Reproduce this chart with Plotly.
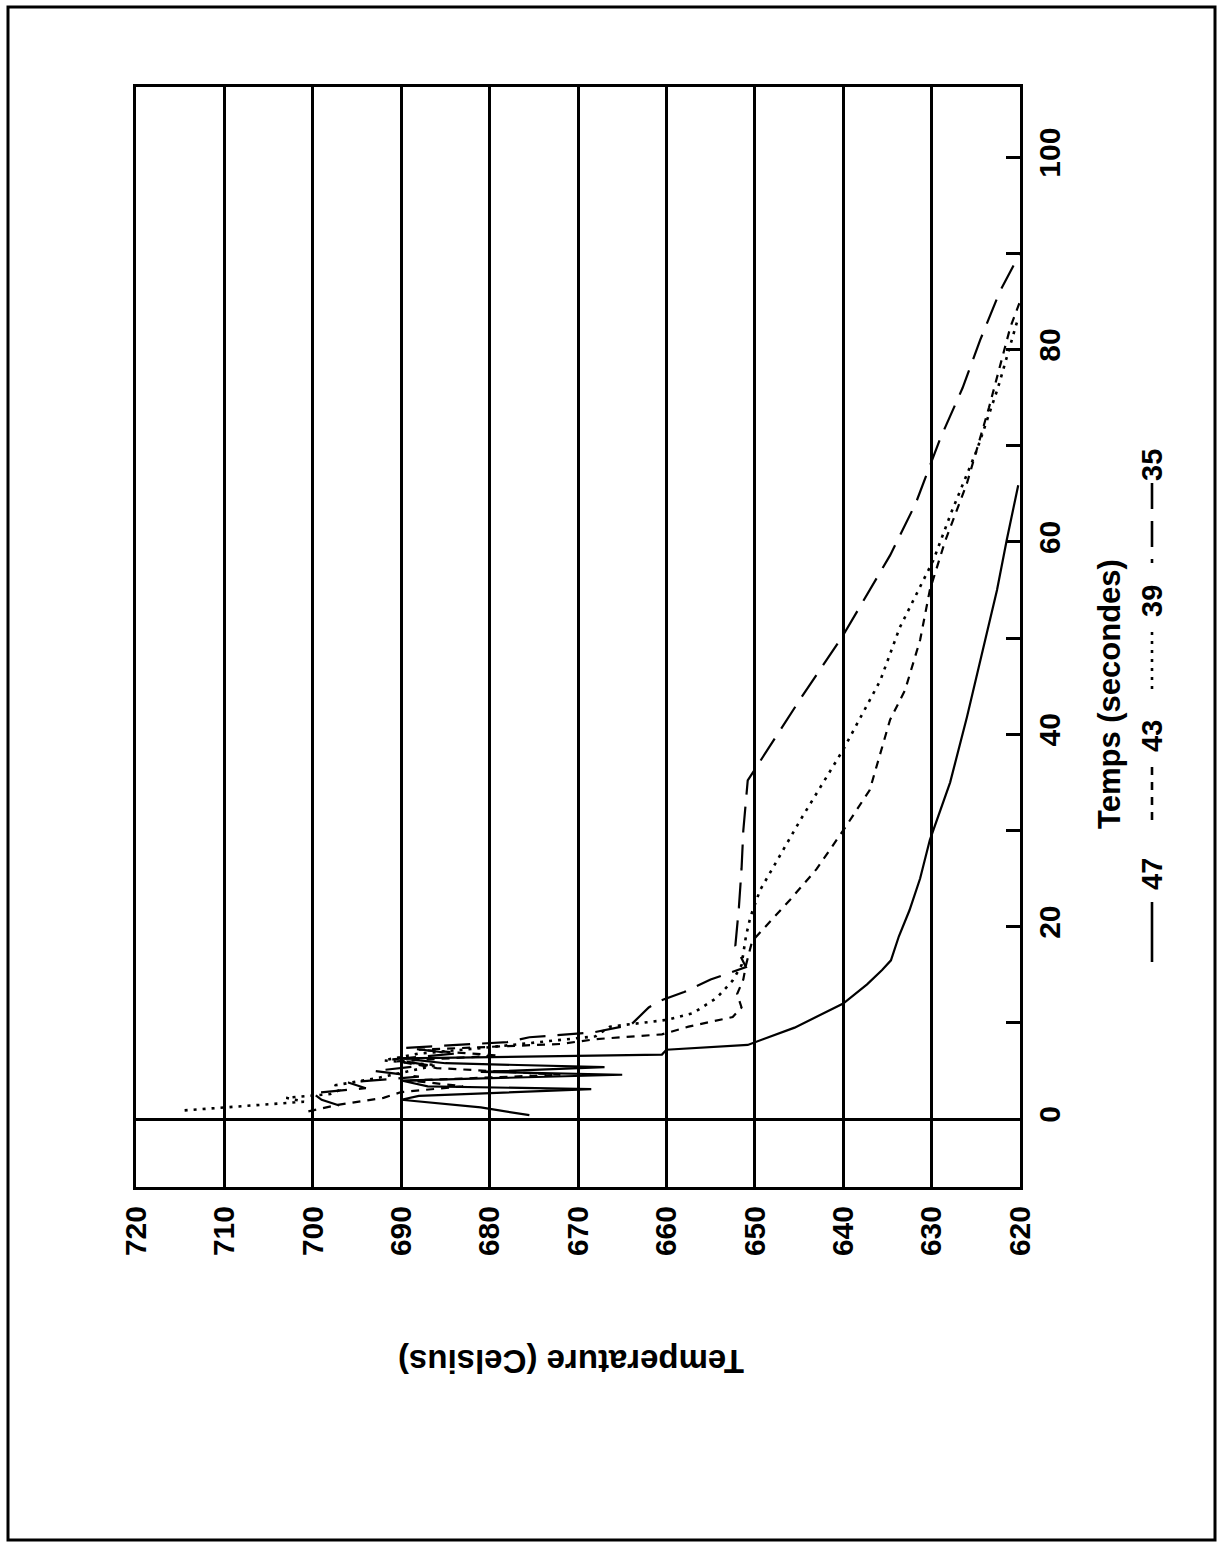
import plotly.graph_objects as go

# Cooling curves: temperature (Celsius) against time (seconds), one run per series
t_47 = [0.4, 1.2, 2.0, 2.4, 3.1, 3.4, 4.0, 4.6, 4.9, 5.4, 5.8, 6.3, 6.7, 7.2, 7.7, 9.5, 12, 14, 15.5, 16.5, 19, 21.7, 25, 29, 35, 41.8, 48.8, 55, 60.2, 65.9]
T_47 = [675.5, 681, 690, 688, 668.5, 687, 690, 665, 681, 667, 685, 690, 660.5, 660, 650.8, 645.5, 640, 637.3, 635.6, 634.6, 633.7, 632.5, 631.3, 630.2, 627.9, 626, 624.2, 622.6, 621.5, 620.2]

t_43 = [0.8, 1.5, 2.2, 2.8, 3.4, 4.0, 4.6, 5.3, 6.0, 6.6, 7.2, 7.8, 8.3, 8.8, 9.6, 10.6, 11.6, 13, 14.5, 16, 18.5, 22.8, 26, 30, 34.2, 41.5, 44.6, 49.8, 55, 60, 66.1, 74, 82.3, 85]
T_43 = [700.5, 697, 692, 690, 683, 689, 672, 686, 690.5, 679, 688, 672, 668, 660.5, 657.5, 652.5, 651.5, 652, 651.3, 651, 650.3, 646, 643, 640, 637, 634.7, 633, 631.3, 630.2, 628.5, 626, 623.5, 621.1, 620]

t_39 = [0.9, 1.2, 1.5, 1.8, 2.2, 2.6, 3.0, 3.5, 4.2, 5.0, 5.6, 6.1, 6.8, 7.4, 8.0, 8.6, 9.6, 10.3, 11.0, 12.6, 14.4, 16, 19, 21, 23.8, 31, 38.4, 45.6, 51.1, 58.1, 63, 69.5, 76, 83]
T_39 = [714.5, 710, 705, 701, 703, 698, 697, 697.5, 693, 689, 686, 692, 688, 680.7, 674, 668, 666.4, 660, 657, 654.3, 652.5, 651.5, 651, 650.5, 649.4, 644.9, 640, 635.8, 633.6, 629.8, 627.8, 624.9, 622.5, 620.3]

t_35 = [1.4, 2.0, 2.7, 3.2, 3.8, 4.4, 5.0, 5.6, 6.2, 6.8, 7.4, 8.0, 8.5, 9.0, 9.8, 11.6, 12.4, 13.2, 14.5, 15.8, 18, 22, 26, 30, 35.2, 43.6, 50.3, 58.6, 64, 70.8, 76, 81, 86, 90]
T_35 = [697, 699, 700, 694, 696, 688, 693, 687, 691, 684, 689.5, 678, 675.5, 668.3, 664, 662, 660.4, 658, 655, 651, 652.2, 651.8, 651.5, 651.3, 650.8, 644.9, 640, 634.7, 631.8, 629, 626.5, 624.5, 622.3, 620]

series_names = ["47", "43", "39", "35"]
temp_ticks = list(range(620, 721, 10))
time_ticks = list(range(0, 101, 10))
time_labels = [str(v) if v % 20 == 0 else "" for v in time_ticks]

W, H = 1218, 1544
L, R, TOP, BOT = 136, 1020, 87, 1187  # plot area in pixels


def px(x):
    return (x - L) / (R - L)


def py(y):
    return (BOT - y) / (BOT - TOP)


FONT = "Liberation Sans"
dashes = {"47": "solid", "43": "8px,7px", "39": "3px,6px", "35": "26px,12px"}
widths = {"47": 2.2, "43": 2.2, "39": 2.6, "35": 2.2}
data = {"47": (T_47, t_47), "43": (T_43, t_43), "39": (T_39, t_39), "35": (T_35, t_35)}

fig = go.Figure()
for name in series_names:
    T, t = data[name]
    fig.add_trace(go.Scatter(x=T, y=t, mode="lines", name=name,
                             line=dict(color="black", width=widths[name], dash=dashes[name])))

fig.update_layout(
    width=W, height=H,
    margin=dict(l=L, r=W - R, t=TOP, b=H - BOT),
    paper_bgcolor="white", plot_bgcolor="white",
    showlegend=False,
    font=dict(family=FONT, color="black"),
)
fig.update_xaxes(
    range=[720, 620], tickvals=temp_ticks, tickangle=-90,
    tickfont=dict(family=FONT, size=30, weight="bold", color="black"),
    showgrid=True, gridcolor="black", gridwidth=2.5,
    showline=True, linecolor="black", linewidth=3, mirror=True,
    ticks="", ticklabelstandoff=4, zeroline=False,
)
fig.update_yaxes(
    range=[-7.07, 107.3], side="right", tickvals=time_ticks, ticktext=time_labels,
    tickangle=-90, tickfont=dict(family=FONT, size=30, weight="bold", color="black"),
    ticks="inside", ticklen=14, tickwidth=2.5, tickcolor="black",
    showgrid=False, zeroline=True, zerolinecolor="black", zerolinewidth=2.5,
    showline=True, linecolor="black", linewidth=3, mirror=True,
    ticklabelstandoff=1,
)

annotations = [
    dict(text="Temperature (Celsius)", x=px(571), y=py(1362), textangle=180,
         font=dict(size=33, weight="bold")),
    dict(text="Temps (secondes)", x=px(1110), y=py(694), textangle=-90,
         font=dict(size=31, weight="bold")),
]
legend_text_y = {"47": 874, "43": 736, "39": 601, "35": 465}
legend_line_y = {"47": (902, 962), "43": (767, 825), "39": (632, 690), "35": (483, 563)}
for name in series_names:
    annotations.append(dict(text=name, x=px(1152), y=py(legend_text_y[name]), textangle=-90,
                            font=dict(size=29, weight="bold")))
for a in annotations:
    a.update(xref="paper", yref="paper", showarrow=False, xanchor="center", yanchor="middle")
fig.update_layout(annotations=annotations)

shapes = []
for name in series_names:
    y0, y1 = legend_line_y[name]
    shapes.append(dict(type="line", xref="paper", yref="paper",
                       x0=px(1152), x1=px(1152), y0=py(y0), y1=py(y1),
                       line=dict(color="black", width=2.6, dash=dashes[name])))
# page frame
shapes.append(dict(type="rect", xref="paper", yref="paper",
                   x0=px(8), x1=px(1215), y0=py(1540), y1=py(7),
                   line=dict(color="black", width=3)))
fig.update_layout(shapes=shapes)

fig.write_html("out.html")
